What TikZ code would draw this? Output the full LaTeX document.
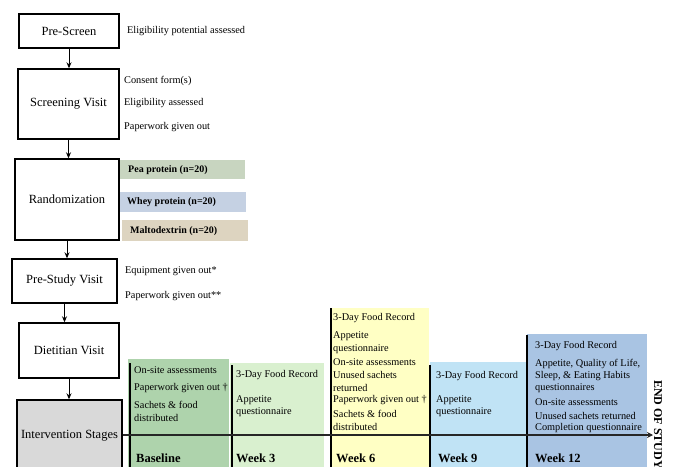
\documentclass[tikz,border=0pt]{standalone}
\usepackage{fontspec}
\setmainfont{Liberation Serif}
\usetikzlibrary{arrows.meta}
\definecolor{cbase}{HTML}{AED3AC}
\definecolor{cwkthree}{HTML}{D9F0CF}
\definecolor{cwksix}{HTML}{FFFFC4}
\definecolor{cwknine}{HTML}{C0E3F5}
\definecolor{cwktwelve}{HTML}{A9C4E3}
\definecolor{cgray}{HTML}{D9D9D9}
\definecolor{cpea}{HTML}{C8D5C0}
\definecolor{cwhey}{HTML}{C5D1E3}
\definecolor{cmalto}{HTML}{DDD4C0}
\tikzset{
  stagebox/.style={draw=black, line width=1.4pt, fill=white, inner sep=0pt,
    font=\fontsize{12.5}{14}\selectfont, align=center},
  itm/.style={anchor=west, inner sep=0pt, align=left,
    font=\fontsize{10.3}{12.5}\selectfont},
  bar/.style={anchor=west, inner sep=0pt, font=\fontsize{10}{12}\selectfont\bfseries},
  wk/.style={anchor=west, inner sep=0pt, font=\fontsize{12.5}{14}\selectfont\bfseries},
  flow/.style={line width=1pt, -{Stealth[length=6pt,width=5pt]}},
  sep/.style={line width=2pt, black},
}
\begin{document}
\begin{tikzpicture}[x=1pt,y=-1pt]
\useasboundingbox (0,0) rectangle (677,466);
\clip (0,0) rectangle (677,466);

% --- randomization bars
\fill[cpea] (120,160) rectangle (245,179);
\fill[cwhey] (120,192) rectangle (246,212);
\fill[cmalto] (122,220) rectangle (248,241);
\node[bar] (pea) at (128,170) {Pea protein (n=20)};
\node[bar] (whey) at (127,202) {Whey protein (n=20)};
\node[bar] (malto) at (130,231) {Maltodextrin (n=20)};

% --- stage fills
\fill[cbase] (128,359) rectangle (229,480);
\fill[cwkthree] (230,363) rectangle (324,480);
\fill[cwksix] (331,308) rectangle (429,480);
\fill[cwknine] (430,362) rectangle (526,480);
\fill[cwktwelve] (527,334) rectangle (647,480);

% --- separators
\coordinate (s1t) at (130,363); \coordinate (s1b) at (130,480);
\coordinate (s2t) at (232,365); \coordinate (s2b) at (232,480);
\coordinate (s3t) at (331,308); \coordinate (s3b) at (331,480);
\coordinate (s4t) at (430,365); \coordinate (s4b) at (430,480);
\coordinate (s5t) at (527,335); \coordinate (s5b) at (527,480);
\draw[sep] (s1t) -- (s1b);
\draw[sep] (s2t) -- (s2b);
\draw[sep] (s3t) -- (s3b);
\draw[sep] (s4t) -- (s4b);
\draw[sep] (s5t) -- (s5b);

% --- flow boxes
\node[stagebox, minimum width=100pt, minimum height=34pt] (pre) at (69,31) {Pre-Screen};
\node[stagebox, minimum width=101pt, minimum height=70pt] (scr) at (68.5,104) {Screening Visit};
\node[stagebox, minimum width=104pt, minimum height=81pt] (ran) at (67,199.5) {Randomization};
\node[stagebox, minimum width=105pt, minimum height=44pt] (pst) at (64.5,281) {Pre-Study Visit};
\node[stagebox, minimum width=100pt, minimum height=55pt] (die) at (69,350.5) {Dietitian Visit};
\node[stagebox, fill=cgray, minimum width=105pt, minimum height=72pt] (int) at (69.5,436) {Intervention Stages};

\draw[flow] (pre.south) -- (pre.south |- scr.north);
\draw[flow] (scr.south) -- (scr.south |- ran.north);
\draw[flow] (ran.south) -- (ran.south |- pst.north);
\draw[flow] (pst.south) -- (pst.south |- die.north);
\draw[flow] (die.south) -- (die.south |- int.north);

% --- side notes
\node[itm] (n1) at (127,31) {Eligibility potential assessed};
\node[itm] (n2) at (124,81) {Consent form(s)};
\node[itm] (n3) at (124,103) {Eligibility assessed};
\node[itm] (n4) at (124,127) {Paperwork given out};
\node[itm] (n5) at (125,271) {Equipment given out*};
\node[itm] (n6) at (125,296) {Paperwork given out**};

% --- timeline arrow
\coordinate (tend) at (653,435);
\draw[line width=1.6pt, black!85, -{Stealth[length=6pt,width=6pt]}] (int.east |- tend) -- (tend);
\node[rotate=-90, anchor=west, inner sep=0pt, font=\fontsize{12}{14}\selectfont\bfseries] (eos) at (658,380) {END OF STUDY};

% --- Baseline
\node[itm] (b1) at (134,370) {On-site assessments};
\node[itm] (b2) at (134,388) {Paperwork given out †};
\node[itm] (b3) at (134,411.5) {Sachets \& food\\distributed};
% --- Week 3
\node[itm] (c1) at (236,375) {3-Day Food Record};
\node[itm] (c2) at (236,406) {Appetite\\questionnaire};
% --- Week 6
\node[itm] (d1) at (333,318) {3-Day Food Record};
\node[itm] (d2) at (333,342.5) {Appetite\\questionnaire};
\node[itm] (d3) at (333,362) {On-site assessments};
\node[itm] (d4) at (333,381.5) {Unused sachets\\returned};
\node[itm] (d5) at (333,400) {Paperwork given out †};
\node[itm] (d6) at (333,420.5) {Sachets \& food\\distributed};
% --- Week 9
\node[itm] (e1) at (436,376) {3-Day Food Record};
\node[itm] (e2) at (436,406) {Appetite\\questionnaire};
% --- Week 12
\node[itm] (f1) at (535,346) {3-Day Food Record};
\node[itm, font=\fontsize{10.3}{12}\selectfont] (f2) at (535,376) {Appetite, Quality of Life,\\Sleep, \& Eating Habits\\questionnaires};
\node[itm] (f3) at (535,402) {On-site assessments};
\node[itm] (f4) at (535,416) {Unused sachets returned};
\node[itm] (f5) at (535,428) {Completion questionnaire};

% --- week labels
\node[wk] (w0) at (136,458) {Baseline};
\node[wk] (w3) at (236,458) {Week 3};
\node[wk] (w6) at (336,458) {Week 6};
\node[wk] (w9) at (438,458) {Week 9};
\node[wk] (w12) at (535,458) {Week 12};
\end{tikzpicture}
\end{document}
